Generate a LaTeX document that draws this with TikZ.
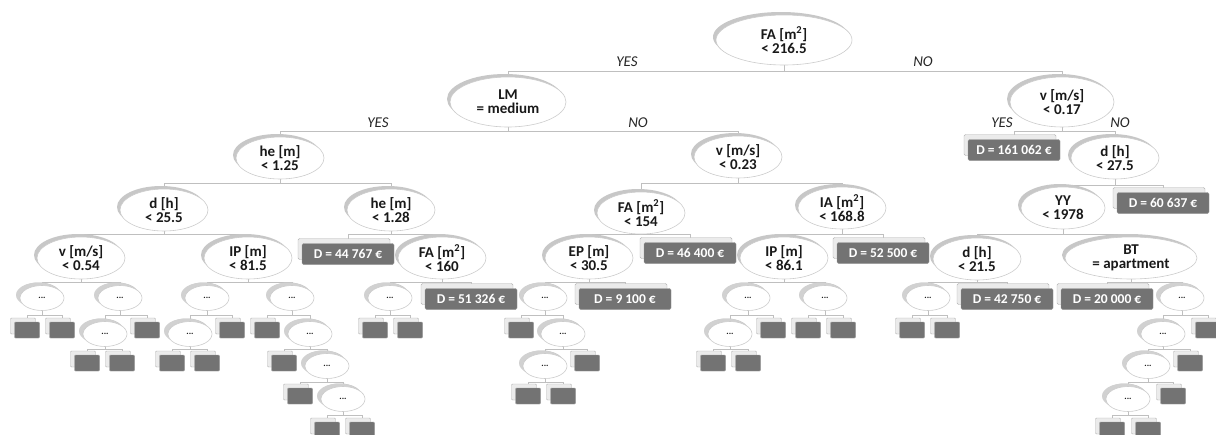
\documentclass[tikz,border=0pt]{standalone}
\usepackage{fontspec}
\setmainfont{Carlito}
\usetikzlibrary{shapes.geometric,shadows,backgrounds}
\tikzset{
  ell/.style={ellipse, draw=black!20, line width=0.6pt, fill=white, inner sep=0pt,
    minimum width=88pt, minimum height=42pt, align=center,
    font=\fontsize{15}{14}\selectfont\bfseries, text=black!90,
    drop shadow={shadow xshift=-3pt, shadow yshift=3pt, fill=black!22, opacity=1}},
  dots/.style={ell, minimum width=44pt, minimum height=25pt,
    font=\fontsize{9}{9}\selectfont\bfseries,
    drop shadow={shadow xshift=-4pt, shadow yshift=3pt, fill=black!18, opacity=1}},
  dbox/.style={rectangle, rounded corners=1.5pt, fill=black!55, draw=black!40, text=white,
    minimum width=92pt, minimum height=21pt, inner sep=0pt,
    font=\fontsize{13.5}{14}\selectfont\bfseries,
    drop shadow={shadow xshift=-4pt, shadow yshift=5pt, fill=black!8, draw=black!30, opacity=1}},
  leaf/.style={rectangle, rounded corners=1pt, fill=black!55, draw=black!40,
    minimum width=25pt, minimum height=16pt, inner sep=0pt,
    drop shadow={shadow xshift=-4pt, shadow yshift=4pt, fill=black!8, draw=black!30, opacity=1}},
  yn/.style={font=\fontsize{15}{15}\selectfont\itshape, text=black!85, inner sep=0pt},
  conn/.style={draw=black!25, line width=0.8pt}
}
\newcommand\tc[3]{\draw[conn] (#1.south) -- (#1.south |- 0,#3) -| (#2.north);}
\newcommand\mtwo{m\textsuperscript{2}}
\begin{document}
\begin{tikzpicture}[x=1pt,y=-1pt]
\useasboundingbox (0,0) rectangle (1216,434);
% level 0-1
\node[ell, minimum width=136pt, minimum height=50pt] (root) at (784,40) {FA [\mtwo]\\< 216.5};
\node[ell, minimum width=116pt, minimum height=50pt] (LM) at (508,102) {LM\\= medium};
\node[ell, minimum width=104pt, minimum height=50pt] (v017) at (1062,102) {v [m/s]\\< 0.17};
% level 2
\node[ell] (he125) at (280,158) {he [m]\\< 1.25};
\node[ell] (v023) at (738,157) {v [m/s]\\< 0.23};
\node[dbox] (D161062) at (1014,150) {D = 161 062 €};
\node[ell] (d275) at (1115,158) {d [h]\\< 27.5};
% level 3
\node[ell] (d255) at (164,210) {d [h]\\< 25.5};
\node[ell] (he128) at (391,210) {he [m]\\< 1.28};
\node[ell] (FA154) at (641,213) {FA [\mtwo]\\< 154};
\node[ell] (IA) at (842,208) {IA [\mtwo]\\< 168.8};
\node[ell, minimum width=84pt] (YY) at (1063,208) {YY\\< 1978};
\node[dbox] (D60637) at (1163,203) {D = 60 637 €};
% level 4
\node[ell] (v054) at (81,258) {v [m/s]\\< 0.54};
\node[ell] (IP815) at (248,258) {IP [m]\\< 81.5};
\node[dbox] (D44767) at (348,254) {D = 44 767 €};
\node[ell] (FA160) at (442,258) {FA [\mtwo]\\< 160};
\node[ell] (EP) at (589,258) {EP [m]\\< 30.5};
\node[dbox] (D46400) at (690,253) {D = 46 400 €};
\node[ell] (IP861) at (784,258) {IP [m]\\< 86.1};
\node[dbox] (D52500) at (883,253) {D = 52 500 €};
\node[ell] (d215) at (977,259) {d [h]\\< 21.5};
\node[ell, minimum width=132pt] (BT) at (1131,258) {BT\\= apartment};
% level 5
\node[dots] (a1) at (42,298) {...};
\node[dots] (a2) at (120,298) {...};
\node[dots] (b1) at (207,298) {...};
\node[dots] (b2) at (292,298) {...};
\node[dots] (c1) at (390,298) {...};
\node[dbox] (D51326) at (471,299) {D = 51 326 €};
\node[dots] (e1) at (545,298) {...};
\node[dbox] (D9100) at (625,299) {D = 9 100 €};
\node[dots] (f1) at (748,298) {...};
\node[dots] (f2) at (825,298) {...};
\node[dots] (g1) at (928,298) {...};
\node[dbox] (D42750) at (1007,299) {D = 42 750 €};
\node[dbox] (D20000) at (1107,299) {D = 20 000 €};
\node[dots] (h1) at (1182,298) {...};
% level 6
\node[leaf] (la1) at (27,330) {};
\node[leaf] (la2) at (62,330) {};
\node[dots] (a21) at (105,334) {...};
\node[leaf] (la3) at (147,330) {};
\node[dots] (b11) at (190,334) {...};
\node[leaf] (lb1) at (232,330) {};
\node[leaf] (lb2) at (267,330) {};
\node[dots] (b21) at (310,334) {...};
\node[leaf] (lc1) at (375,330) {};
\node[leaf] (lc2) at (410,330) {};
\node[leaf] (le1) at (521,330) {};
\node[dots] (e11) at (563,334) {...};
\node[dots] (f11) at (730,334) {...};
\node[leaf] (lf1) at (773,330) {};
\node[leaf] (lf2) at (808,330) {};
\node[leaf] (lf3) at (843,330) {};
\node[leaf] (lg1) at (912,330) {};
\node[leaf] (lg2) at (947,330) {};
\node[dots] (h11) at (1163,334) {...};
\node[leaf] (lh1) at (1208,330) {};
% level 7
\node[leaf] (la4) at (87,363) {};
\node[leaf] (la5) at (122,363) {};
\node[leaf] (lb3) at (172,363) {};
\node[leaf] (lb4) at (207,363) {};
\node[leaf] (lb5) at (284,363) {};
\node[dots] (b211) at (327,366) {...};
\node[dots] (e111) at (545,366) {...};
\node[leaf] (le2) at (587,363) {};
\node[leaf] (lf4) at (713,363) {};
\node[leaf] (lf5) at (748,363) {};
\node[dots] (h111) at (1148,366) {...};
\node[leaf] (lh2) at (1190,363) {};
% level 8
\node[leaf] (lb6) at (300,396) {};
\node[dots] (b2111) at (343,399) {...};
\node[leaf] (le3) at (528,396) {};
\node[leaf] (le4) at (563,396) {};
\node[dots] (h1111) at (1128,399) {...};
\node[leaf] (lh3) at (1173,396) {};
% level 9
\node[leaf] (lb7) at (327,430) {};
\node[leaf] (lb8) at (362,430) {};
\node[leaf] (lh4) at (1112,430) {};
\node[leaf] (lh5) at (1148,430) {};
% yes/no labels
\node[yn] (y0) at (627,62) {YES};
\node[yn] (n0) at (923,62) {NO};
\node[yn] (y1) at (378,123) {YES};
\node[yn] (n1) at (638,123) {NO};
\node[yn] (y2) at (1002,123) {YES};
\node[yn] (n2) at (1120,123) {NO};
\begin{pgfonlayer}{background}
\fill[white] (0,0) rectangle (1216,434);
\tc{root}{LM}{71} \tc{root}{v017}{71}
\tc{LM}{he125}{131} \tc{LM}{v023}{131}
\tc{v017}{D161062}{131} \tc{v017}{d275}{131}
\tc{he125}{d255}{183} \tc{he125}{he128}{183}
\tc{v023}{FA154}{183} \tc{v023}{IA}{183}
\tc{d275}{YY}{185} \tc{d275}{D60637}{185}
\tc{d255}{v054}{234} \tc{d255}{IP815}{234}
\tc{he128}{D44767}{234} \tc{he128}{FA160}{234}
\tc{FA154}{EP}{234} \tc{FA154}{D46400}{234}
\tc{IA}{IP861}{234} \tc{IA}{D52500}{234}
\tc{YY}{d215}{234} \tc{YY}{BT}{234}
\tc{v054}{a1}{282} \tc{v054}{a2}{282}
\tc{IP815}{b1}{282} \tc{IP815}{b2}{282}
\tc{FA160}{c1}{282} \tc{FA160}{D51326}{282}
\tc{EP}{e1}{282} \tc{EP}{D9100}{282}
\tc{IP861}{f1}{282} \tc{IP861}{f2}{282}
\tc{d215}{g1}{282} \tc{d215}{D42750}{282}
\tc{BT}{D20000}{282} \tc{BT}{h1}{282}
\tc{a1}{la1}{315} \tc{a1}{la2}{315}
\tc{a2}{a21}{315} \tc{a2}{la3}{315}
\tc{b1}{b11}{315} \tc{b1}{lb1}{315}
\tc{b2}{lb2}{315} \tc{b2}{b21}{315}
\tc{c1}{lc1}{315} \tc{c1}{lc2}{315}
\tc{e1}{le1}{315} \tc{e1}{e11}{315}
\tc{f1}{f11}{315} \tc{f1}{lf1}{315}
\tc{f2}{lf2}{315} \tc{f2}{lf3}{315}
\tc{g1}{lg1}{315} \tc{g1}{lg2}{315}
\tc{h1}{h11}{315} \tc{h1}{lh1}{315}
\tc{a21}{la4}{349} \tc{a21}{la5}{349}
\tc{b11}{lb3}{349} \tc{b11}{lb4}{349}
\tc{b21}{lb5}{349} \tc{b21}{b211}{349}
\tc{e11}{e111}{349} \tc{e11}{le2}{349}
\tc{f11}{lf4}{349} \tc{f11}{lf5}{349}
\tc{h11}{h111}{349} \tc{h11}{lh2}{349}
\tc{b211}{lb6}{382} \tc{b211}{b2111}{382}
\tc{e111}{le3}{382} \tc{e111}{le4}{382}
\tc{h111}{h1111}{382} \tc{h111}{lh3}{382}
\tc{b2111}{lb7}{415} \tc{b2111}{lb8}{415}
\tc{h1111}{lh4}{415} \tc{h1111}{lh5}{415}
\end{pgfonlayer}
\end{tikzpicture}
\end{document}
